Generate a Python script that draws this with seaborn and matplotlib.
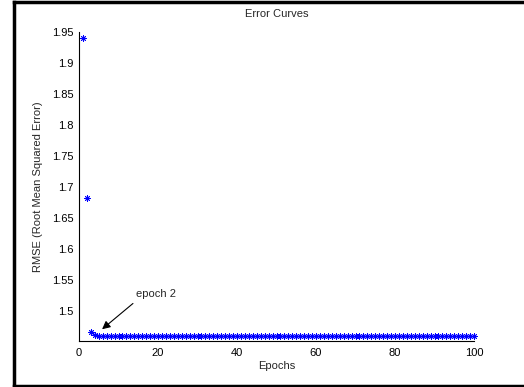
import matplotlib
matplotlib.use("Agg")
import matplotlib.pyplot as plt
import pandas as pd
import seaborn as sns
from matplotlib.lines import Line2D

# Data
epochs = list(range(1, 101))
rmse = [1.940, 1.682, 1.466, 1.461, 1.460, 1.460, 1.460, 1.460, 1.460, 1.460,
        1.460, 1.460, 1.460, 1.460, 1.460, 1.460, 1.460, 1.460, 1.460, 1.460,
        1.460, 1.460, 1.460, 1.460, 1.460, 1.460, 1.460, 1.460, 1.460, 1.460,
        1.460, 1.460, 1.460, 1.460, 1.460, 1.460, 1.460, 1.460, 1.460, 1.460,
        1.460, 1.460, 1.460, 1.460, 1.460, 1.460, 1.460, 1.460, 1.460, 1.460,
        1.460, 1.460, 1.460, 1.460, 1.460, 1.460, 1.460, 1.460, 1.460, 1.460,
        1.460, 1.460, 1.460, 1.460, 1.460, 1.460, 1.460, 1.460, 1.460, 1.460,
        1.460, 1.460, 1.460, 1.460, 1.460, 1.460, 1.460, 1.460, 1.460, 1.460,
        1.460, 1.460, 1.460, 1.460, 1.460, 1.460, 1.460, 1.460, 1.460, 1.460,
        1.460, 1.460, 1.460, 1.460, 1.460, 1.460, 1.460, 1.460, 1.460, 1.460]
x_ticks = [0, 20, 40, 60, 80, 100]
y_ticks = [1.5, 1.55, 1.6, 1.65, 1.7, 1.75, 1.8, 1.85, 1.9, 1.95]

df = pd.DataFrame({"epoch": epochs, "rmse": rmse})

sns.set_style("white")
plt.rcParams['font.family'] = ['Liberation Sans', 'DejaVu Sans']
plt.rcParams['font.size'] = 8

fig = plt.figure(figsize=(5.24, 3.87), dpi=100)
ax = fig.add_axes([79 / 524, 1 - 341 / 387, 395 / 524, 309 / 387])

# outer frame: left, top and bottom edges only (right edge is cut off)
x0, y0, y1 = 13.5 / 524, 1.5 / 387, 385.5 / 387
for xs, ys in [([x0, x0], [y0, y1]), ([x0, 1.0], [y1, y1]), ([x0, 1.0], [y0, y0])]:
    fig.add_artist(Line2D(xs, ys, transform=fig.transFigure, color='black',
                          linewidth=2.5, solid_capstyle='projecting'))

sns.scatterplot(data=df, x="epoch", y="rmse", ax=ax, marker=(8, 2, 0), s=18,
                color='blue', edgecolor='blue', linewidth=0.6, clip_on=False, legend=False)

ax.set_xlim(0, 100)
ax.set_ylim(1.4516, 1.95)
ax.set_xticks(x_ticks)
ax.set_xticklabels([str(t) for t in x_ticks])
ax.set_yticks(y_ticks)
ax.set_yticklabels(["1.5", "1.55", "1.6", "1.65", "1.7", "1.75", "1.8", "1.85", "1.9", "1.95"])
ax.tick_params(direction='in', length=3, width=0.8, colors='black', labelsize=8, pad=4)
ax.tick_params(axis='x', pad=5)
for side in ['top', 'right']:
    ax.spines[side].set_visible(False)
for side in ['left', 'bottom']:
    ax.spines[side].set_color('black')
    ax.spines[side].set_linewidth(0.8)

ax.set_xlabel("Epochs", fontsize=8, labelpad=2)
ax.set_ylabel("RMSE (Root Mean Squared Error)", fontsize=8, labelpad=6)
ax.set_title("Error Curves", fontsize=8, pad=11)

ax.annotate("", xy=(5.3, 1.4677), xytext=(14.2, 1.515),
            arrowprops=dict(arrowstyle='-|>', color='black', lw=0.8, mutation_scale=12))
ax.text(14.4, 1.519, "epoch 2", fontsize=8, ha='left', va='bottom')

fig.savefig("out.png", dpi=100)
